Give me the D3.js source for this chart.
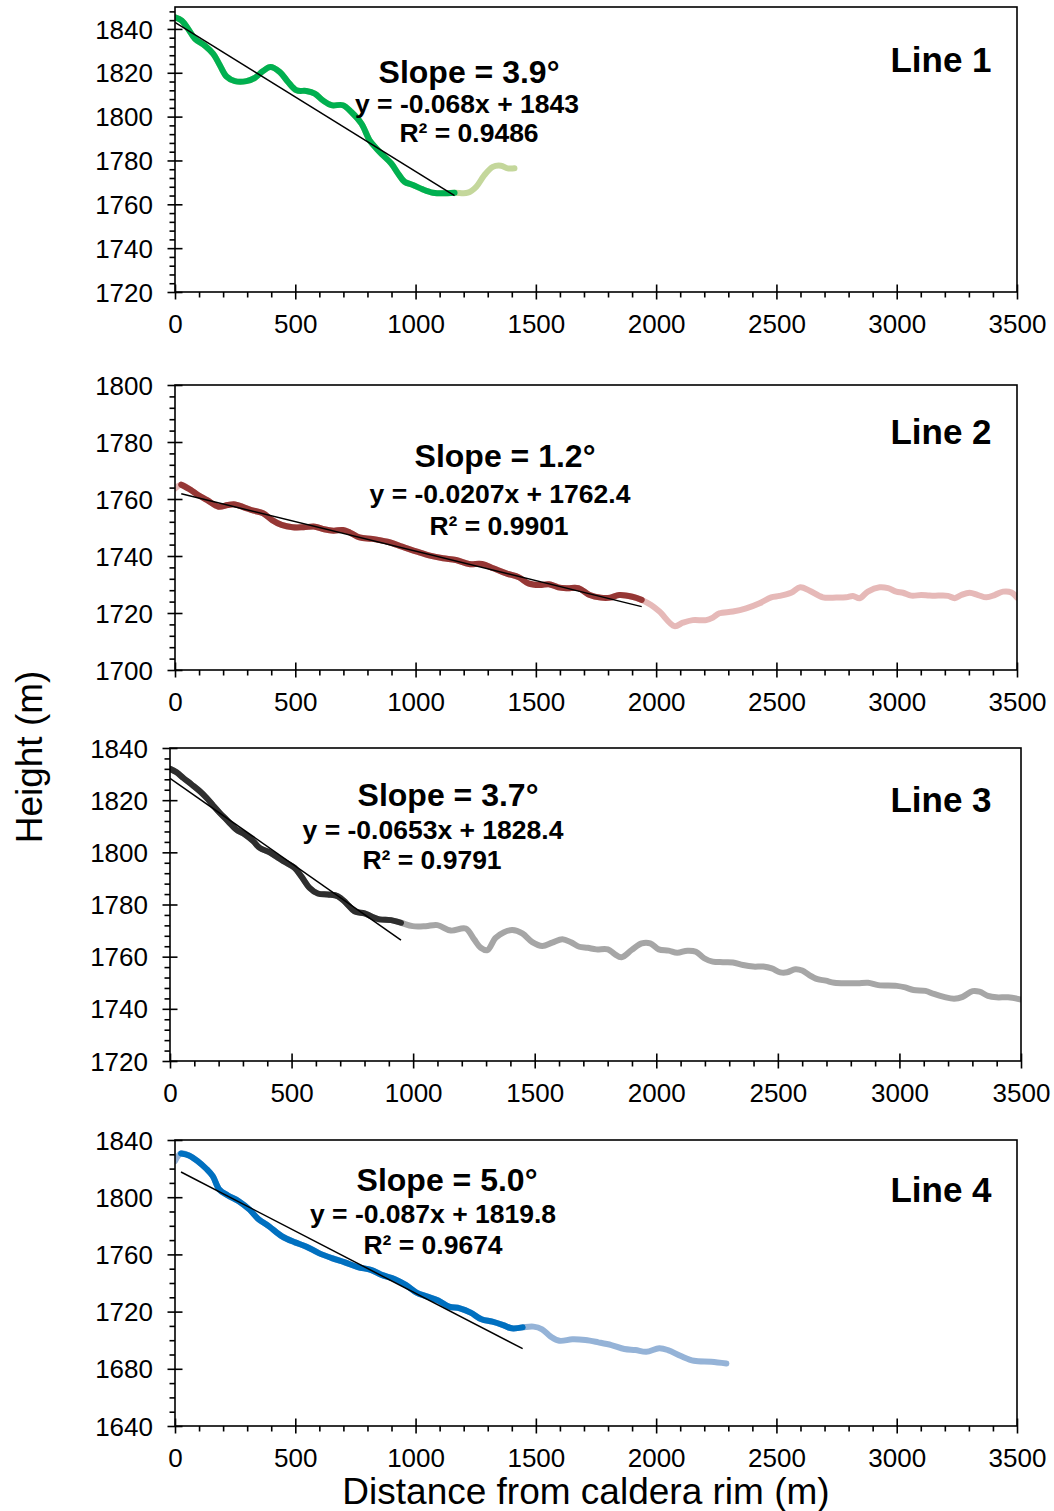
<!DOCTYPE html>
<html>
<head>
<meta charset="utf-8">
<script src="https://cdn.jsdelivr.net/npm/d3@7"></script>
<style>
  html, body { margin: 0; padding: 0; background: #fff; }
  svg { display: block; }
</style>
</head>
<body>
<svg id="chart" width="1054" height="1511"></svg>
<script>
// ---- Profile data: [distance from rim (m), height (m)] ----
// Fitted part of each profile (dark), plus the untreated parts before/after (light).
const line1Head = [];
const line1Fit = [[0,1845.3],[28,1843.8],[55,1840],[83,1835.5],[124,1832.4],[159,1828.6],[187,1823.3],[214,1818.3],[249,1816.2],[297,1816.2],[332,1817.7],[366,1820.8],[397,1822.6],[436,1820.3],[470,1815.8],[505,1812],[546,1811.7],[581,1810.5],[615,1807.4],[650,1805.2],[698,1805.2],[733,1802.1],[775,1796.8],[809,1789.2],[837,1785.5],[864,1782.4],[899,1778.6],[927,1774.1],[954,1770.3],[989,1768.8],[1030,1766.8],[1072,1765.3],[1113,1765],[1162,1765.3]];
const line1Tail = [[1217,1765.3],[1252,1768],[1286,1773.3],[1321,1777.1],[1355,1777.6],[1383,1776.4],[1411,1776.4]];

const line2Head = [[0,1763.7]];
const line2Fit = [[26,1765],[65,1763.2],[96,1761.4],[134,1759.6],[181,1757.3],[219,1757.9],[250,1758.1],[289,1757],[327,1755.9],[366,1755],[404,1752.6],[443,1750.9],[489,1750.1],[535,1750.1],[582,1750.3],[620,1749.4],[659,1748.9],[698,1749.1],[728,1748.2],[767,1746.5],[821,1746],[883,1745],[944,1743.3],[1006,1741.5],[1060,1740.1],[1114,1739.2],[1168,1738.6],[1222,1737.2],[1276,1737.2],[1323,1735.7],[1377,1733.9],[1430,1732.5],[1469,1730.4],[1515,1729.8],[1554,1730.1],[1593,1729],[1631,1728.7],[1677,1728.7],[1724,1726.3],[1770,1725.4],[1809,1725.4],[1847,1726.3],[1901,1725.7],[1940,1724.6]];
const line2Tail = [[1979,1722.8],[2014,1720.5],[2076,1715.4],[2111,1716.6],[2152,1717.5],[2208,1717.5],[2236,1718.4],[2263,1719.9],[2319,1720.5],[2374,1721.6],[2430,1723.4],[2478,1725.5],[2513,1726],[2561,1727.1],[2599,1729],[2638,1727.8],[2693,1725.5],[2749,1725.4],[2790,1725.5],[2818,1726],[2846,1725.2],[2880,1727.5],[2929,1729],[2964,1728.7],[2998,1727.5],[3026,1727.1],[3061,1726.1],[3102,1726.3],[3137,1726.1],[3178,1726.1],[3213,1726],[3241,1725.2],[3268,1726.3],[3303,1727.1],[3338,1726.3],[3373,1725.5],[3407,1726.3],[3442,1727.5],[3477,1727.2],[3500,1725.4]];

const line3Head = [];
const line3Fit = [[0,1832],[27,1830.7],[55,1828.5],[89,1826],[123,1823.4],[150,1820.9],[178,1817.9],[205,1815.1],[239,1811.9],[273,1808.7],[308,1806.8],[342,1804.3],[369,1801.7],[410,1800],[444,1797.9],[478,1796],[513,1794],[540,1790.8],[574,1786.4],[608,1784.2],[649,1783.8],[690,1783.2],[724,1780.6],[759,1777.4],[800,1776.6],[827,1775.5],[861,1774.3],[909,1774],[950,1773]];
const line3Tail = [[998,1771.7],[1052,1771.7],[1100,1772.1],[1155,1770],[1216,1770.8],[1251,1766.6],[1278,1763.4],[1305,1762.5],[1339,1767.2],[1374,1769.4],[1408,1770.2],[1449,1768.9],[1490,1765.6],[1531,1764.1],[1572,1765.4],[1614,1766.7],[1649,1765.5],[1683,1763.8],[1718,1763.4],[1753,1762.8],[1801,1762.8],[1829,1761],[1857,1759.8],[1899,1762.6],[1940,1765.1],[1975,1765.1],[2010,1762.8],[2051,1762.3],[2086,1761.5],[2128,1762.3],[2163,1761.9],[2197,1759.4],[2232,1758.1],[2274,1757.9],[2315,1757.8],[2357,1756.8],[2399,1756.2],[2440,1756.2],[2475,1755.5],[2510,1754],[2538,1754],[2572,1755.2],[2600,1754.7],[2628,1753],[2663,1751.4],[2697,1750.8],[2732,1750],[2788,1749.8],[2829,1749.8],[2871,1750],[2913,1749.1],[2989,1748.8],[3024,1748.2],[3058,1747.2],[3107,1746.9],[3142,1745.7],[3183,1744.6],[3225,1743.9],[3260,1744.6],[3301,1746.8],[3329,1746.6],[3364,1745],[3399,1744.4],[3447,1744.4],[3500,1743.6]];

const line4Head = [[0,1825.3]];
const line4Fit = [[25,1830.6],[58,1829.2],[94,1825.3],[130,1819.9],[157,1814.7],[184,1805.4],[220,1801.2],[265,1797.2],[310,1791.3],[346,1784.8],[391,1779.6],[445,1772.6],[499,1768.4],[544,1765.6],[598,1760.9],[652,1757.4],[706,1754.4],[760,1751.1],[814,1749.2],[859,1745.7],[914,1742.7],[959,1738.7],[1004,1733.3],[1049,1730.5],[1094,1727.7],[1139,1723.5],[1184,1722.3],[1229,1719.3],[1274,1714.6],[1319,1713],[1364,1710.6],[1400,1708.3],[1445,1709]];
const line4Tail = [[1490,1709.5],[1526,1707.6],[1562,1702.5],[1598,1699.6],[1652,1700.6],[1706,1700.1],[1760,1698.5],[1814,1696.6],[1868,1693.8],[1914,1693.1],[1959,1691.9],[2013,1694.3],[2049,1693.1],[2103,1688.9],[2157,1685.6],[2229,1684.9],[2292,1683.7]];

// ---- Linear fits and labels ----
const lineNames = ["Line 1", "Line 2", "Line 3", "Line 4"];
const trendSlopes = [-0.068, -0.0207, -0.0653, -0.087];
const trendIntercepts = [1843, 1762.4, 1828.4, 1819.8];
const rSquared = ["0.9486", "0.9901", "0.9791", "0.9674"];
const slopeDegrees = ["3.9", "1.2", "3.7", "5.0"];

// ---- Axis ticks ----
const xTicks = [0, 500, 1000, 1500, 2000, 2500, 3000, 3500];
const line1YTicks = [1720, 1740, 1760, 1780, 1800, 1820, 1840];
const line2YTicks = [1700, 1720, 1740, 1760, 1780, 1800];
const line3YTicks = [1720, 1740, 1760, 1780, 1800, 1820, 1840];
const line4YTicks = [1640, 1680, 1720, 1760, 1800, 1840];

const heads = [line1Head, line2Head, line3Head, line4Head];
const fits = [line1Fit, line2Fit, line3Fit, line4Fit];
const tails = [line1Tail, line2Tail, line3Tail, line4Tail];
const yTickSets = [line1YTicks, line2YTicks, line3YTicks, line4YTicks];

// ---- Layout and styling per panel ----
const layout = [
  { left: 175, right: 1017, top: 7,    bottom: 292,  yDomain: [1720, 1850], yMinor: 4,
    dark: "#00B050", light: "#C4D79B",
    slopePos: [469, 83],   eqPos: [467, 113],  r2Pos: [469, 142],  namePos: [941, 72] },
  { left: 175, right: 1017, top: 385,  bottom: 670,  yDomain: [1700, 1800], yMinor: 4,
    dark: "#953735", light: "#E6B9B8",
    slopePos: [505, 467],  eqPos: [500, 503],  r2Pos: [499, 535],  namePos: [941, 444] },
  { left: 170, right: 1021, top: 748,  bottom: 1061, yDomain: [1720, 1840], yMinor: 4,
    dark: "#2E2E2E", light: "#A6A6A6",
    slopePos: [448, 806],  eqPos: [433, 839],  r2Pos: [432, 869],  namePos: [941, 812] },
  { left: 175, right: 1017, top: 1140, bottom: 1426, yDomain: [1640, 1840], yMinor: 10,
    dark: "#0070C0", light: "#95B3D7",
    slopePos: [447, 1191], eqPos: [433, 1223], r2Pos: [433, 1254], namePos: [941, 1202] }
];

const FONT = "'Liberation Sans', Arial, Helvetica, sans-serif";
const svg = d3.select("#chart");
svg.append("rect").attr("width", 1054).attr("height", 1511).attr("fill", "#fff");

const defs = svg.append("defs");

layout.forEach((L, i) => {
  const g = svg.append("g");
  const x = d3.scaleLinear().domain([0, 3500]).range([L.left, L.right]);
  const y = d3.scaleLinear().domain(L.yDomain).range([L.bottom, L.top]);

  const clipId = "plot-clip-" + i;
  defs.append("clipPath").attr("id", clipId)
    .append("rect")
    .attr("x", L.left).attr("y", L.top)
    .attr("width", L.right - L.left).attr("height", L.bottom - L.top);

  const line = d3.line()
    .x(d => x(d[0]))
    .y(d => y(d[1]))
    .curve(d3.curveCatmullRom.alpha(0.5));

  const plot = g.append("g").attr("clip-path", `url(#${clipId})`);

  // full profile (light), fitted section over it (dark)
  const full = heads[i].concat(fits[i], tails[i]);
  plot.append("path")
    .datum(full)
    .attr("d", line)
    .attr("fill", "none")
    .attr("stroke", L.light)
    .attr("stroke-width", 6)
    .attr("stroke-linejoin", "round")
    .attr("stroke-linecap", "round");

  plot.append("path")
    .datum(fits[i])
    .attr("d", line)
    .attr("fill", "none")
    .attr("stroke", L.dark)
    .attr("stroke-width", 6)
    .attr("stroke-linejoin", "round")
    .attr("stroke-linecap", "round");

  // linear trend over the fitted range
  const xExt = d3.extent(fits[i], d => d[0]);
  const trend = xExt.map(d => [d, trendSlopes[i] * d + trendIntercepts[i]]);
  plot.append("path")
    .datum(trend)
    .attr("d", d3.line().x(d => x(d[0])).y(d => y(d[1])))
    .attr("fill", "none")
    .attr("stroke", "#000")
    .attr("stroke-width", 1.5);

  // plot frame
  g.append("rect")
    .attr("x", L.left).attr("y", L.top)
    .attr("width", L.right - L.left).attr("height", L.bottom - L.top)
    .attr("fill", "none").attr("stroke", "#000").attr("stroke-width", 1.6);

  // x axis: minor ticks every 100 m, major ticks crossing the axis
  const xMinor = d3.range(0, 3500 + 1, 100).filter(v => !xTicks.includes(v));
  g.append("g")
    .attr("transform", `translate(0,${L.bottom})`)
    .call(d3.axisBottom(x).tickValues(xMinor).tickSize(5.5).tickFormat(""))
    .call(a => a.select(".domain").remove())
    .selectAll("line").attr("stroke-width", 1.6);

  const xAx = g.append("g")
    .attr("transform", `translate(0,${L.bottom})`)
    .call(d3.axisBottom(x).tickValues(xTicks).tickSize(7.5).tickFormat(d3.format("d")))
    .call(a => a.select(".domain").remove());
  xAx.selectAll(".tick line").attr("y1", -7.5).attr("stroke-width", 1.6);
  xAx.attr("font-family", FONT).attr("font-size", 26);
  xAx.selectAll(".tick text").attr("y", 32).attr("dy", "0.35em").attr("fill", "#000");

  // y axis
  const yMinor = d3.range(L.yDomain[0], L.yDomain[1] + 0.001, L.yMinor)
    .filter(v => !yTickSets[i].includes(v));
  g.append("g")
    .attr("transform", `translate(${L.left},0)`)
    .call(d3.axisLeft(y).tickValues(yMinor).tickSize(5.5).tickFormat(""))
    .call(a => a.select(".domain").remove())
    .selectAll("line").attr("stroke-width", 1.6);

  const yAx = g.append("g")
    .attr("transform", `translate(${L.left},0)`)
    .call(d3.axisLeft(y).tickValues(yTickSets[i]).tickSize(7.5).tickFormat(d3.format("d")))
    .call(a => a.select(".domain").remove());
  yAx.selectAll(".tick line").attr("x1", 7.5).attr("stroke-width", 1.6);
  yAx.attr("font-family", FONT).attr("font-size", 26);
  yAx.selectAll(".tick text").attr("x", -22).attr("dy", "0.35em").attr("fill", "#000");

  // annotations
  const ann = g.append("g")
    .attr("font-family", FONT)
    .attr("font-weight", "bold")
    .attr("text-anchor", "middle")
    .attr("fill", "#000");

  ann.append("text")
    .attr("x", L.slopePos[0]).attr("y", L.slopePos[1])
    .attr("font-size", 32)
    .text(`Slope = ${slopeDegrees[i]}°`);

  ann.append("text")
    .attr("x", L.eqPos[0]).attr("y", L.eqPos[1])
    .attr("font-size", 26.5)
    .text(`y = ${trendSlopes[i]}x + ${trendIntercepts[i]}`);

  ann.append("text")
    .attr("x", L.r2Pos[0]).attr("y", L.r2Pos[1])
    .attr("font-size", 26.5)
    .text(`R² = ${rSquared[i]}`);

  ann.append("text")
    .attr("x", L.namePos[0]).attr("y", L.namePos[1])
    .attr("font-size", 35)
    .text(lineNames[i]);
});

// shared axis titles
svg.append("text")
  .attr("transform", "translate(42,757) rotate(-90)")
  .attr("text-anchor", "middle")
  .attr("font-family", FONT)
  .attr("font-size", 37)
  .attr("fill", "#000")
  .text("Height (m)");

svg.append("text")
  .attr("x", 586).attr("y", 1504)
  .attr("text-anchor", "middle")
  .attr("font-family", FONT)
  .attr("font-size", 37)
  .attr("fill", "#000")
  .text("Distance from caldera rim (m)");
</script>
</body>
</html>
